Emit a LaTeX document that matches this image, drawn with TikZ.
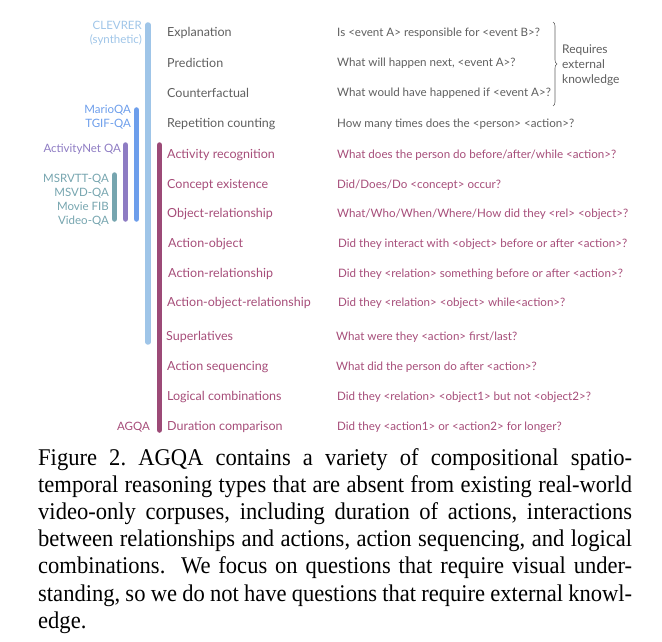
\documentclass[tikz,border=0pt]{standalone}
\usepackage{fontspec}
\setmainfont{Liberation Serif}
\newfontfamily\lato{Lato}
\usetikzlibrary{decorations.pathreplacing}
\definecolor{cclev}{HTML}{9FC5E8}
\definecolor{cmario}{HTML}{6D9EEB}
\definecolor{canet}{HTML}{8E7CC3}
\definecolor{cmsr}{HTML}{76A5AF}
\definecolor{cagqa}{HTML}{A64D79}
\definecolor{cagqabar}{HTML}{9C4A77}
\definecolor{cgrey}{HTML}{5F5F5F}
\begin{document}
\begin{tikzpicture}[x=1pt,y=-1pt,
  lbl/.style={anchor=west,inner sep=0pt,font=\lato\fontsize{12.5}{14}\selectfont},
  qst/.style={anchor=west,inner sep=0pt,font=\lato\fontsize{11.6}{13}\selectfont},
  ds/.style={anchor=east,inner sep=0pt,align=right,font=\lato\fontsize{11.5}{13.9}\selectfont},
  grey/.style={text=cgrey},
  mag/.style={text=cagqa},
  bar/.style={line width=5.5pt,line cap=round}]
\useasboundingbox (0,0) rectangle (662,642);
% bars
\draw[bar,cclev] (148,25) -- (148,342);
\draw[bar,cmario] (136.5,110) -- (136.5,219);
\draw[bar,canet] (125.5,145) -- (125.5,219);
\draw[bar,cmsr] (114.5,175) -- (114.5,219);
\draw[bar,cagqabar] (159.5,145) -- (159.5,430);
% dataset labels
\node[ds,text=cclev] (clev) at (142,33) {CLEVRER\\(synthetic)};
\node[ds,text=cmario] (mario) at (131,117) {MarioQA\\TGIF-QA};
\node[ds,text=canet] (anet) at (121,149) {ActivityNet QA};
\node[ds,text=cmsr] (msr) at (109,200) {MSRVTT-QA\\MSVD-QA\\Movie FIB\\Video-QA};
\node[ds,text=cagqa] (agqa) at (150,427) {AGQA};
% reasoning types
\node[lbl,grey] (t1) at (167,33) {Explanation};
\node[lbl,grey] (t2) at (167,63) {Prediction};
\node[lbl,grey] (t3) at (167,93) {Counterfactual};
\node[lbl,grey] (t4) at (167,124) {Repetition counting};
\node[lbl,mag] (t5) at (167,155) {Activity recognition};
\node[lbl,mag] (t6) at (167,185) {Concept existence};
\node[lbl,mag] (t7) at (167,214) {Object-relationship};
\node[lbl,mag] (t8) at (168,244) {Action-object};
\node[lbl,mag] (t9) at (168,274) {Action-relationship};
\node[lbl,mag] (t10) at (167,303) {Action-object-relationship};
\node[lbl,mag] (t11) at (166,337) {Superlatives};
\node[lbl,mag] (t12) at (167,367) {Action sequencing};
\node[lbl,mag] (t13) at (167,397) {Logical combinations};
\node[lbl,mag] (t14) at (167,427) {Duration comparison};
% questions
\node[qst,grey] (q1) at (337,33) {Is <event A> responsible for <event B>?};
\node[qst,grey] (q2) at (337,63) {What will happen next, <event A>?};
\node[qst,grey] (q3) at (337,93) {What would have happened if <event A>?};
\node[qst,grey] (q4) at (337,124) {How many times does the <person> <action>?};
\node[qst,mag] (q5) at (337,155) {What does the person do before/after/while <action>?};
\node[qst,mag] (q6) at (337,185) {Did/Does/Do <concept> occur?};
\node[qst,mag] (q7) at (337,214) {What/Who/When/Where/How did they <rel> <object>?};
\node[qst,mag] (q8) at (338,244) {Did they interact with <object> before or after <action>?};
\node[qst,mag] (q9) at (338,274) {Did they <relation> something before or after <action>?};
\node[qst,mag] (q10) at (338,303) {Did they <relation> <object> while<action>?};
\node[qst,mag] (q11) at (336,337) {What were they <action> first/last?};
\node[qst,mag] (q12) at (336,367) {What did the person do after <action>?};
\node[qst,mag] (q13) at (337,397) {Did they <relation> <object1> but not <object2>?};
\node[qst,mag] (q14) at (337,427) {Did they <action1> or <action2> for longer?};
% brace
\coordinate (bt) at (553,22);
\coordinate (bb) at (553,106);
\draw[cgrey,line width=0.6pt,decorate,decoration={brace,amplitude=4pt}] (bt) -- (bb);
\node[anchor=west,inner sep=0pt,align=left,text=cgrey,font=\lato\fontsize{12}{15}\selectfont] (ext) at (562,65) {Requires\\external\\knowledge};
% caption
\node[anchor=base west,inner sep=0pt] (cap) at (38,465)
{\scalebox{0.94}[1]{\parbox[t]{631.9pt}{\fontsize{24}{27.2}\selectfont\frenchspacing
Figure 2. AGQA contains a variety of compositional spatio-\linebreak temporal reasoning types that are absent from existing real-world\linebreak video-only corpuses, including duration of actions, interactions\linebreak between relationships and actions, action sequencing, and logical\linebreak combinations.\ \ We focus on questions that require visual under-\linebreak standing, so we do not have questions that require external knowl-\linebreak edge.}}};
\end{tikzpicture}
\end{document}
